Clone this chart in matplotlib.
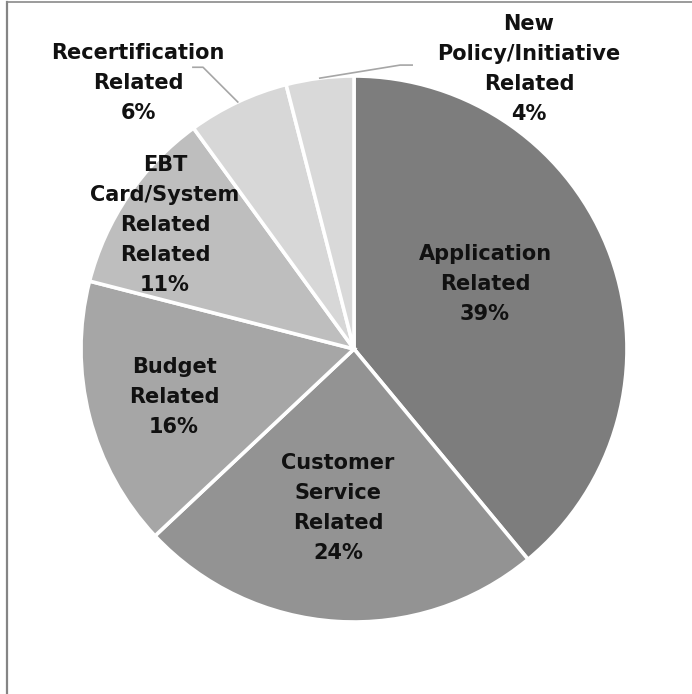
import matplotlib
matplotlib.use("Agg")
import matplotlib.pyplot as plt
from matplotlib.lines import Line2D
import numpy as np

categories = [
    "Application\nRelated",
    "Customer\nService\nRelated",
    "Budget\nRelated",
    "EBT\nCard/System\nRelated\nRelated",
    "Recertification\nRelated",
    "New\nPolicy/Initiative\nRelated",
]
shares = [39, 24, 16, 11, 6, 4]
colors = ["#7d7d7d", "#939393", "#a6a6a6", "#bebebe", "#d7d7d7", "#d9d9d9"]

# label anchor points (pie radius = 1, centre at origin)
label_pos = [
    (0.48, 0.238),
    (-0.059, -0.582),
    (-0.659, -0.176),
    (-0.692, 0.454),
    (-0.791, 0.974),
    (0.641, 1.026),
]
# elbow / end points of the leader lines for the two small slices
leaders = {
    4: [(-0.553, 1.032), (-0.590, 1.032)],
    5: [(0.169, 1.04), (0.213, 1.04)],
}

W, H = 692, 694
fig = plt.figure(figsize=(W / 100, H / 100), dpi=100)
cx, cy, r = 354, 349, 273
ax = fig.add_axes([(cx - r) / W, (H - cy - r) / H, 2 * r / W, 2 * r / H])

wedges, _ = ax.pie(
    shares,
    colors=colors,
    startangle=90,
    counterclock=False,
    radius=1,
    wedgeprops=dict(edgecolor="white", linewidth=2.6),
)
ax.set_xlim(-1, 1)
ax.set_ylim(-1, 1)
ax.set_aspect("equal")
ax.axis("off")

total = sum(shares)
cum = 0
for i, (name, val) in enumerate(zip(categories, shares)):
    mid = cum + val / 2
    cum += val
    ang = np.deg2rad(90 - 360 * mid / total)
    x, y = label_pos[i]
    ax.text(x, y, f"{name}\n{val}%", ha="center", va="center",
            fontsize=15, fontweight="bold", color="#111111",
            linespacing=1.62, family="DejaVu Sans")
    if i in leaders:
        pts = [(np.cos(ang), np.sin(ang))] + leaders[i]
        ax.plot([p[0] for p in pts], [p[1] for p in pts],
                color="#a6a6a6", lw=1.2, clip_on=False)

# chart frame
fig.add_artist(Line2D([6.5 / W, 6.5 / W], [0, 1 - 2 / H],
                      transform=fig.transFigure, color="#858585", lw=1.6))
fig.add_artist(Line2D([6.5 / W, 1], [1 - 2 / H, 1 - 2 / H],
                      transform=fig.transFigure, color="#8a8a8a", lw=1.2))

fig.savefig("out.png", dpi=100, facecolor="white")
